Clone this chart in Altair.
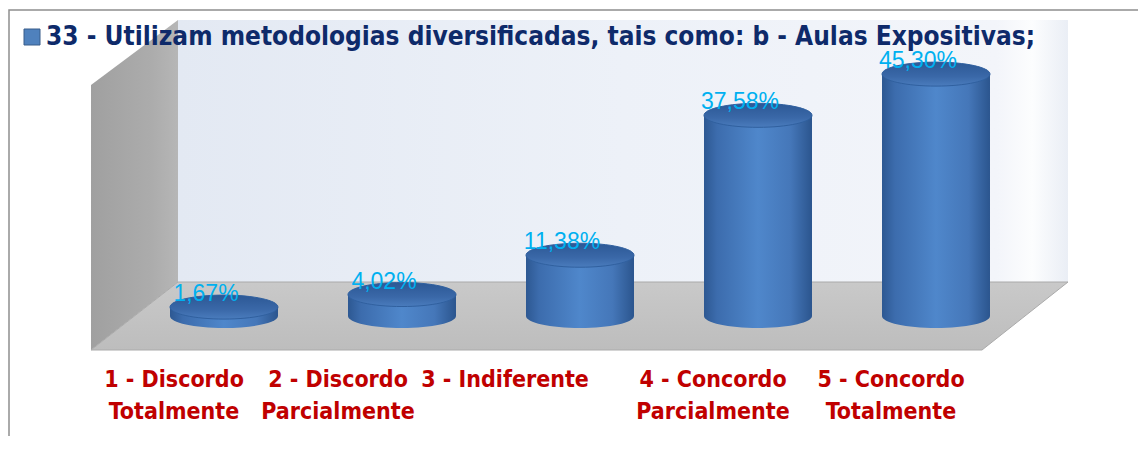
import altair as alt
import pandas as pd

# ---- data ----
categories = [
    "1 - Discordo|Totalmente",
    "2 - Discordo|Parcialmente",
    "3 - Indiferente",
    "4 - Concordo|Parcialmente",
    "5 - Concordo|Totalmente",
]
values = [1.67, 4.02, 11.38, 37.58, 45.30]
series_name = "33 - Utilizam metodologias diversificadas, tais como: b - Aulas Expositivas;"

df = pd.DataFrame({"cat": categories, "value": values, "series": series_name})
one = pd.DataFrame({"d": [0]})

NARROW = "Liberation Sans Narrow, DejaVu Sans Condensed, Arial Narrow, sans-serif"
W, H = 890, 267

label_offset = {
    "condition": [
        {"test": "indexof(datum.value, '2 -') == 0", "value": -64},
        {"test": "indexof(datum.value, '3 -') == 0", "value": -75},
        {"test": "indexof(datum.value, '1 -') == 0", "value": -50},
    ],
    "value": -45,
}

xs = alt.X("cat:N", sort=categories,
           scale=alt.Scale(paddingInner=0.3933, paddingOuter=0.19663),
           axis=alt.Axis(title=None, domain=False, ticks=False, tickSize=0, labelAngle=0,
                         labelExpr="split(datum.label, '|')", zindex=2,
                         labelFont=NARROW, labelFontSize=23, labelFontWeight="bold",
                         labelColor="#c00000", labelLineHeight=32, labelPadding=52,
                         labelOffset=label_offset, labelLimit=400, labelOverlap=False,
                         labelBound=False))
ys = alt.Y("value:Q", scale=alt.Scale(domain=[0, 50]), axis=None)

def lin(stops, horizontal=True):
    g = {"gradient": "linear", "x1": 0, "y1": 0, "x2": 1 if horizontal else 0,
         "y2": 0 if horizontal else 1,
         "stops": [{"offset": o, "color": c} for o, c in stops]}
    return g

# ---- decorative 3D box (styling only) ----
frame = alt.Chart(one).mark_rect(fill="white", stroke="#8f8f8f", strokeWidth=1.5).encode(
    x=alt.value(-126), x2=alt.value(1030), y=alt.value(-39), y2=alt.value(430))

backwall = alt.Chart(one).mark_rect(
    color=lin([(0, "#e3e9f3"), (0.5, "#edf1f8"), (0.92, "#f3f5fa"), (0.96, "#fcfdfe"), (1, "#eaeef5")])
).encode(x=alt.value(43), x2=alt.value(933), y=alt.value(-29), y2=alt.value(233))

leftwall = alt.Chart(one).mark_point(
    shape="M -44 36 L 43 -29 L 43 233 L -44 301 Z", size=4, filled=True, opacity=1,
    color=lin([(0, "#a0a0a0"), (0.7, "#acacac"), (1, "#b6b6b6")])
).encode(x=alt.value(0), y=alt.value(0))

floor = alt.Chart(one).mark_point(
    shape="M 43 233 L 933 233 L 847 301 L -44 301 Z", size=4, filled=True, opacity=1,
    stroke="#aaaaaa", strokeWidth=1,
    color=lin([(0, "#c9c9c9"), (1, "#bdbdbd")], horizontal=False)
).encode(x=alt.value(0), y=alt.value(0))

# ---- cylinders ----
r = 0.2222
k = 0.5523 * r
ellipse = (f"M -1 0 C -1 {-k} -0.5523 {-r} 0 {-r} C 0.5523 {-r} 1 {-k} 1 0 "
           f"C 1 {k} 0.5523 {r} 0 {r} C -0.5523 {r} -1 {k} -1 0 Z")

body_grad = lin([(0, "#2d5892"), (0.12, "#3c6cad"), (0.5, "#4f87cb"), (0.8, "#4577b9"), (1, "#2b558e")])

bottom = alt.Chart(df).mark_point(shape=ellipse, size=108 * 108, filled=True, opacity=1,
                                  color=body_grad, strokeWidth=0).encode(
    x=xs, y=alt.datum(0, scale=alt.Scale(domain=[0, 50]), axis=None))

body = alt.Chart(df).mark_bar(color=body_grad).encode(x=xs, y=ys, y2=alt.datum(0))

top = alt.Chart(df).mark_point(shape=ellipse, size=108 * 108, filled=True, opacity=1,
                               color=lin([(0, "#2c5895"), (0.6, "#3a68a8"), (1, "#4a7cbd")], horizontal=False),
                               stroke="#30609f", strokeWidth=1).encode(x=xs, y=ys)

labels = alt.Chart(df).mark_text(dx=-18, dy=-6, baseline="alphabetic", align="center",
                                 font="Liberation Sans", fontSize=23, color="#00b0f0").encode(
    x=xs, y=ys,
    text=alt.Text("lbl:N")).transform_calculate(
    lbl="replace(format(datum.value, '.2f'), '.', ',') + '%'")

legend_layer = alt.Chart(df).mark_point(filled=True, size=0, shape="square").encode(
    x=xs, y=ys,
    color=alt.Color("series:N", scale=alt.Scale(range=["#4f81bd"]),
                    legend=alt.Legend(title=None, orient="none", legendX=-116, legendY=-25,
                                      symbolType="square", symbolSize=256, symbolOpacity=1,
                                      symbolStrokeColor="#385d8a", symbolStrokeWidth=1,
                                      labelFont=NARROW, labelFontSize=26, labelFontWeight="bold",
                                      labelColor="#0e2a6a", labelOffset=1, labelLimit=1200,
                                      padding=0)))

chart = alt.layer(frame, backwall, leftwall, floor, bottom, body, top, labels, legend_layer).properties(
    width=W, height=H,
    padding={"left": 127, "top": 41, "right": 113, "bottom": 120},
    autosize=alt.AutoSizeParams(type="none"),
).configure_view(stroke=None)

chart.save("out.html", embed_options={"renderer": "svg", "actions": False})
